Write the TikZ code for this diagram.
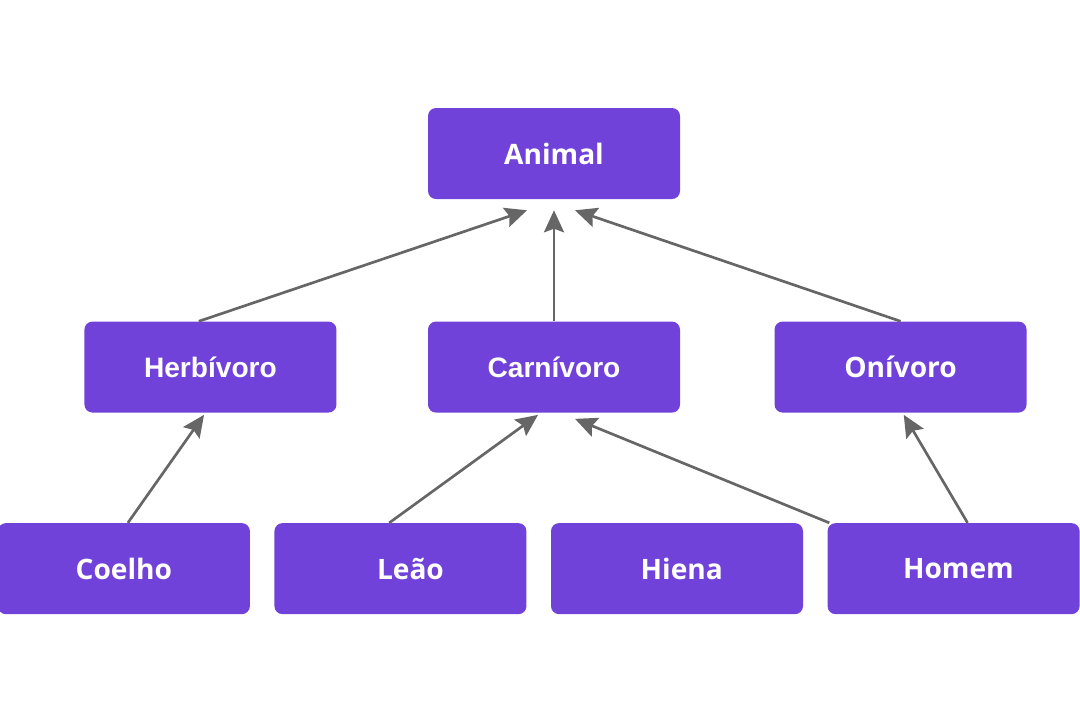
\documentclass[tikz,border=0pt]{standalone}
\usepackage{fontspec}
\setmainfont{Open Sans}
\newfontfamily\arialfont{Liberation Sans}
\usetikzlibrary{positioning, arrows.meta}

\definecolor{boxfill}{HTML}{7042DA}
\definecolor{arrgray}{HTML}{666666}

\begin{document}
\begin{tikzpicture}[
    font=\fontsize{20}{24}\selectfont\bfseries,
    >={Stealth[length=5.5mm, width=5mm, inset=0.9mm]},
    cls/.style={
        fill=boxfill, text=white, rounded corners=2mm,
        minimum width=6.3cm, minimum height=2.275cm,
        inner sep=0pt, align=center,
    },
    arr/.style={->, arrgray, line width=1.9pt},
]
\useasboundingbox (0,0) rectangle (27,-18);

% --- Top level ----------------------------------------------
\node[cls] (animal) at (13.85,-3.8375) {\raisebox{-0.8mm}{Animal}};

% --- Middle row ---------------------------------------------
\node[cls, below=3.05cm of animal] (carn) {\arialfont Carnívoro};
\node[cls, left=2.275cm of carn] (herb) {\arialfont Herbívoro};
\node[cls, right=2.35cm of carn] (oniv) {Onívoro};

% --- Bottom row ---------------------------------------------
\node[cls, below=2.75cm of carn, xshift=3.075cm] (hiena) {\hspace{2.4mm}Hiena};
\node[cls, left=0.6cm of hiena] (leao) {\hspace{5mm}Leão};
\node[cls, left=0.6cm of leao] (coelho) {Coelho};
\node[cls, right=0.6cm of hiena] (homem) {\hspace{2.4mm}Homem};

% --- Arrows -------------------------------------------------
\draw[arr] ([xshift=-0.29cm]herb.north) -- ([xshift=-0.675cm, yshift=-0.275cm]animal.south);
\draw[arr] (carn.north) -- ([yshift=-0.275cm]animal.south);
\draw[arr] (oniv.north) -- ([xshift=0.525cm, yshift=-0.275cm]animal.south);

\draw[arr] ([xshift=0.1cm]coelho.north) -- ([xshift=-0.16cm, yshift=-0.05cm]herb.south);
\draw[arr] ([xshift=-0.28cm]leao.north) -- ([xshift=-0.4cm, yshift=-0.05cm]carn.south);
\draw[arr] ([xshift=0.05cm]homem.north west) -- ([xshift=0.525cm, yshift=-0.15cm]carn.south);
\draw[arr] ([xshift=0.35cm]homem.north) -- ([xshift=0.08cm, yshift=-0.05cm]oniv.south);

\end{tikzpicture}
\end{document}
